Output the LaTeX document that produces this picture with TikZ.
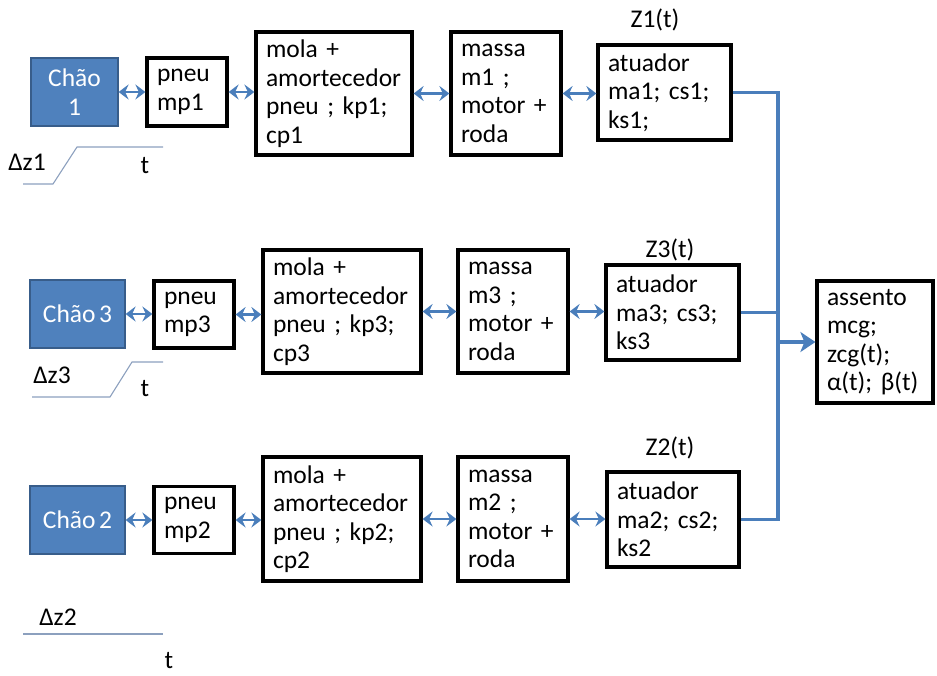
\documentclass[tikz,border=0pt]{standalone}
\usepackage{fontspec}
\setmainfont{Carlito}[WordSpace=0.6]
\usetikzlibrary{arrows.meta}
\definecolor{floorblue}{HTML}{4F81BD}
\definecolor{floorline}{HTML}{385D8A}
\definecolor{linkblue}{HTML}{4A7EBB}
\definecolor{plotline}{RGB}{140,160,190}
\tikzset{
  every node/.style={font=\fontsize{25.5}{28.5}\selectfont},
  blk/.style={draw, line width=3.2pt, inner xsep=10pt, inner ysep=0pt, align=left},
  sz/.code 2 args={\pgfmathsetmacro\boxtw{#1-20}%
    \edef\boxopts{\noexpand\tikzset{minimum width=#1pt, minimum height=#2pt, text width=\boxtw pt}}\boxopts},
  floor/.style={draw=floorline, fill=floorblue, line width=1.2pt, text=white, align=center, inner sep=0pt},
  link/.style={draw=linkblue, line width=2.8pt,
    {Stealth[length=10pt,width=15pt,inset=3.5pt]}-{Stealth[length=10pt,width=15pt,inset=3.5pt]}},
  bus/.style={draw=linkblue, line width=3.8pt, line join=miter},
  plot/.style={draw=plotline, line width=1.1pt},
}
\begin{document}
\begin{tikzpicture}[x=1pt,y=-1pt]
\useasboundingbox (0,0) rectangle (937,675);

% chain 1
\node[floor, minimum width=87pt, minimum height=68pt] (c1) at (74.5,92) {Chão\\1};
\node[blk, sz={80}{68}] (p1) at (187,92) {pneu\\mp1};
\node[blk, sz={156}{123}] (m1) at (334,93.5) {mola +\\amortecedor\\pneu ; kp1;\\cp1};
\node[blk, sz={110}{123}] (s1) at (506,93.5) {massa\\m1 ;\\motor +\\roda};
\node[blk, sz={133}{95}] (a1) at (664.5,92.5) {atuador\\ma1; cs1;\\ks1;};
\node (z1) at (655,20) {Z1(t)};

% chain 3
\node[floor, minimum width=95pt, minimum height=68pt] (c3) at (77.5,314) {Chão 3};
\node[blk, sz={80}{67}] (p3) at (194,314.5) {pneu\\mp3};
\node[blk, sz={158}{123}] (m3) at (342,311.5) {mola +\\amortecedor\\pneu ; kp3;\\cp3};
\node[blk, sz={110}{123}] (s3) at (513,311.5) {massa\\m3 ;\\motor +\\roda};
\node[blk, sz={133}{95}] (a3) at (672.5,312.5) {atuador\\ma3; cs3;\\ks3};
\node (z3) at (670,250) {Z3(t)};

% chain 2
\node[floor, minimum width=95pt, minimum height=68pt] (c2) at (77.5,520) {Chão 2};
\node[blk, sz={80}{67}] (p2) at (194,520) {pneu\\mp2};
\node[blk, sz={158}{124}] (m2) at (342,519) {mola +\\amortecedor\\pneu ; kp2;\\cp2};
\node[blk, sz={110}{124}] (s2) at (513,519) {massa\\m2 ;\\motor +\\roda};
\node[blk, sz={132}{95}] (a2) at (673,519.5) {atuador\\ma2; cs2;\\ks2};
\node (z2) at (670,448) {Z2(t)};

% seat
\node[blk, sz={116}{122}] (as) at (875,342) {assento\\mcg;\\zcg(t);\\\mbox{α(t); β(t)}};

% links along each chain
\foreach \r in {1,2,3}{
  \draw[link] (c\r.east) -- (c\r.east -| p\r.west);
  \draw[link] (p\r.east) -- (p\r.east -| m\r.west);
  \draw[link] (m\r.east) -- (m\r.east -| s\r.west);
  \draw[link] (s\r.east) -- (s\r.east -| a\r.west);
}

% collecting bus to the seat
\coordinate (j2) at (778,519.5);
\draw[bus] (a1.east) -| (j2) -- (a2.east);
\draw[bus] (a3.east) -- (a3.east -| j2);
\draw[bus, -{Stealth[length=15pt,width=20pt,inset=4pt]}] (j2 |- as.west) -- (as.west);

% road input profiles
\draw[plot] (23,184) -- (53,184) -- (77,147) -- (163,147);
\node (dz1) at (27,162) {Δz1};
\node (t1) at (145,166) {t};

\draw[plot] (32,397) -- (110,397) -- (132,362) -- (163,362);
\node (dz3) at (52,375) {Δz3};
\node (t3) at (145,389) {t};

\draw[plot] (23,634) -- (163,634);
\node (dz2) at (58,617) {Δz2};
\node (t2) at (169,661) {t};
\end{tikzpicture}
\end{document}
